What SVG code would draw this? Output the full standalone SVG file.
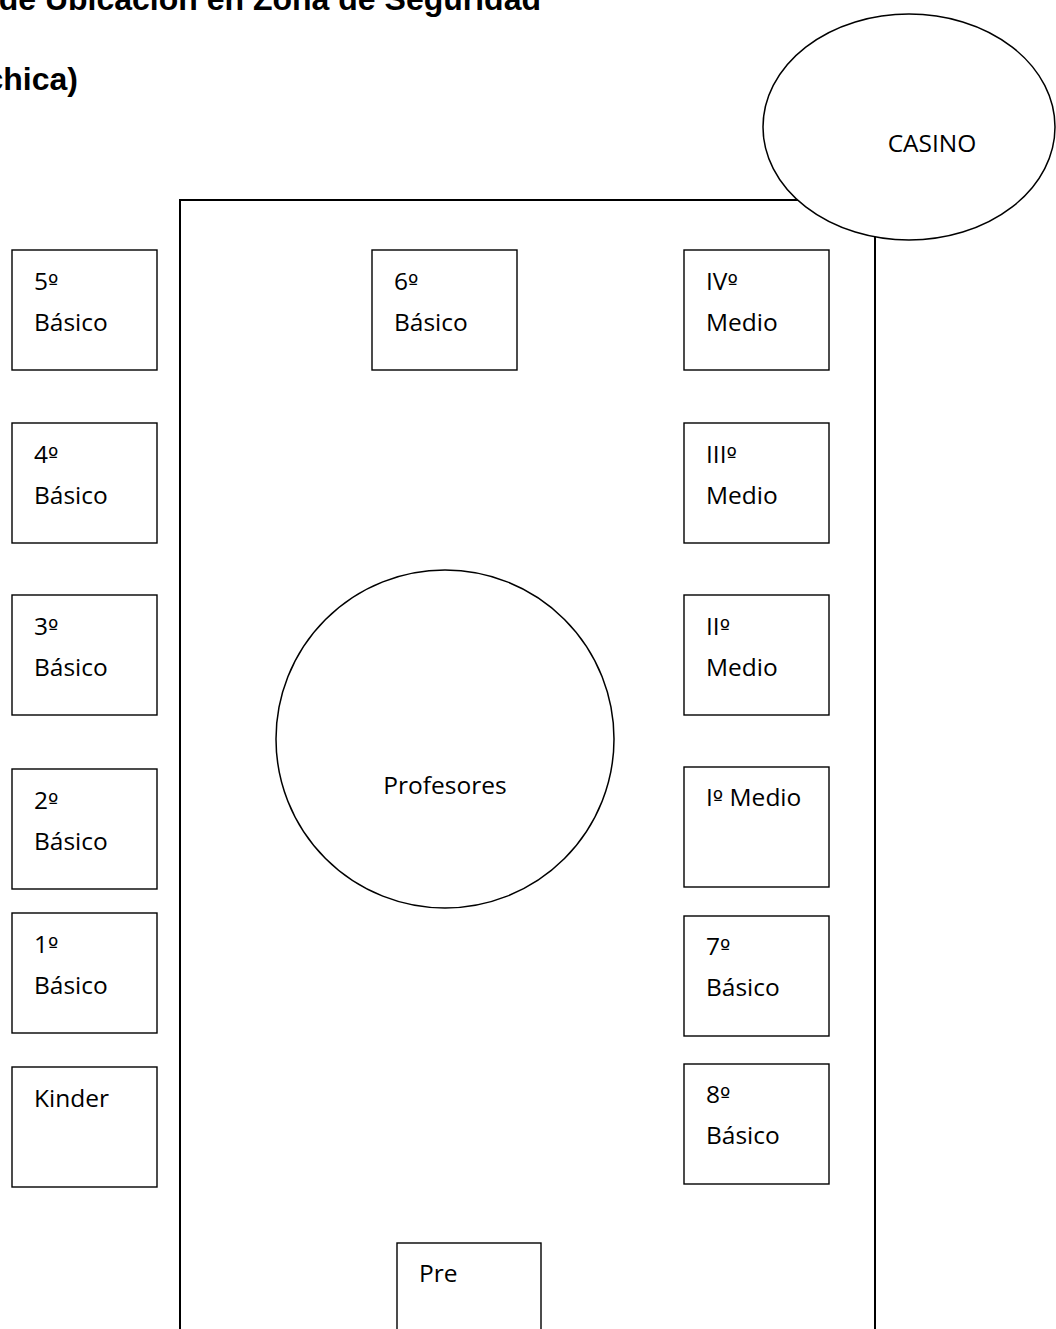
<svg xmlns="http://www.w3.org/2000/svg" width="1056" height="1329" viewBox="0 0 1056 1329">
<style>
.box{fill:#fff;stroke:#000;stroke-width:1.4}
.lbl{font-family:"Open Sans","Noto Sans",sans-serif;font-size:24.5px;fill:#000}
.ord{font-family:"DejaVu Sans",sans-serif;font-size:22px}
.title{font-family:"Liberation Sans",Arial,sans-serif;font-size:32px;font-weight:bold;fill:#000}
.zone{fill:none;stroke:#000;stroke-width:2}
.ell{fill:#fff;stroke:#000;stroke-width:1.5}
</style>
<rect width="1056" height="1329" fill="#fff"/>
<g id="title">
<text class="title" x="541" y="10" text-anchor="end">de Ubicación en Zona de Seguridad</text>
<text class="title" x="78" y="90" text-anchor="end">chica)</text>
</g>
<g id="zona">
<rect class="zone" x="180" y="200" width="695" height="1160"/>
</g>
<g id="casino">
<ellipse class="ell" cx="909" cy="127" rx="146" ry="113"/>
<text class="lbl" x="932" y="152" text-anchor="middle">CASINO</text>
</g>
<g id="profesores">
<circle class="ell" cx="445" cy="739" r="169"/>
<text class="lbl" x="445" y="794" text-anchor="middle">Profesores</text>
</g>
<g id="b5"><rect class="box" x="12" y="250" width="145" height="120"/><text class="lbl" x="34" y="290">5<tspan class="ord">º</tspan></text><text class="lbl" x="34" y="331">Básico</text></g>
<g id="b4"><rect class="box" x="12" y="423" width="145" height="120"/><text class="lbl" x="34" y="463">4<tspan class="ord">º</tspan></text><text class="lbl" x="34" y="504">Básico</text></g>
<g id="b3"><rect class="box" x="12" y="595" width="145" height="120"/><text class="lbl" x="34" y="635">3<tspan class="ord">º</tspan></text><text class="lbl" x="34" y="676">Básico</text></g>
<g id="b2"><rect class="box" x="12" y="769" width="145" height="120"/><text class="lbl" x="34" y="809">2<tspan class="ord">º</tspan></text><text class="lbl" x="34" y="850">Básico</text></g>
<g id="b1"><rect class="box" x="12" y="913" width="145" height="120"/><text class="lbl" x="34" y="953">1<tspan class="ord">º</tspan></text><text class="lbl" x="34" y="994">Básico</text></g>
<g id="kinder"><rect class="box" x="12" y="1067" width="145" height="120"/><text class="lbl" x="34" y="1107">Kinder</text></g>
<g id="b6"><rect class="box" x="372" y="250" width="145" height="120"/><text class="lbl" x="394" y="290">6<tspan class="ord">º</tspan></text><text class="lbl" x="394" y="331">Básico</text></g>
<g id="pre"><rect class="box" x="397" y="1243" width="144" height="120"/><text class="lbl" x="419" y="1282">Pre</text></g>
<g id="m4"><rect class="box" x="684" y="250" width="145" height="120"/><text class="lbl" x="706" y="290">IV<tspan class="ord">º</tspan></text><text class="lbl" x="706" y="331">Medio</text></g>
<g id="m3"><rect class="box" x="684" y="423" width="145" height="120"/><text class="lbl" x="706" y="463">III<tspan class="ord">º</tspan></text><text class="lbl" x="706" y="504">Medio</text></g>
<g id="m2"><rect class="box" x="684" y="595" width="145" height="120"/><text class="lbl" x="706" y="635">II<tspan class="ord">º</tspan></text><text class="lbl" x="706" y="676">Medio</text></g>
<g id="m1"><rect class="box" x="684" y="767" width="145" height="120"/><text class="lbl" x="706" y="806">I<tspan class="ord">º</tspan> Medio</text></g>
<g id="b7"><rect class="box" x="684" y="916" width="145" height="120"/><text class="lbl" x="706" y="955">7<tspan class="ord">º</tspan></text><text class="lbl" x="706" y="996">Básico</text></g>
<g id="b8"><rect class="box" x="684" y="1064" width="145" height="120"/><text class="lbl" x="706" y="1103">8<tspan class="ord">º</tspan></text><text class="lbl" x="706" y="1144">Básico</text></g>
<g id="connectors"></g>
</svg>
